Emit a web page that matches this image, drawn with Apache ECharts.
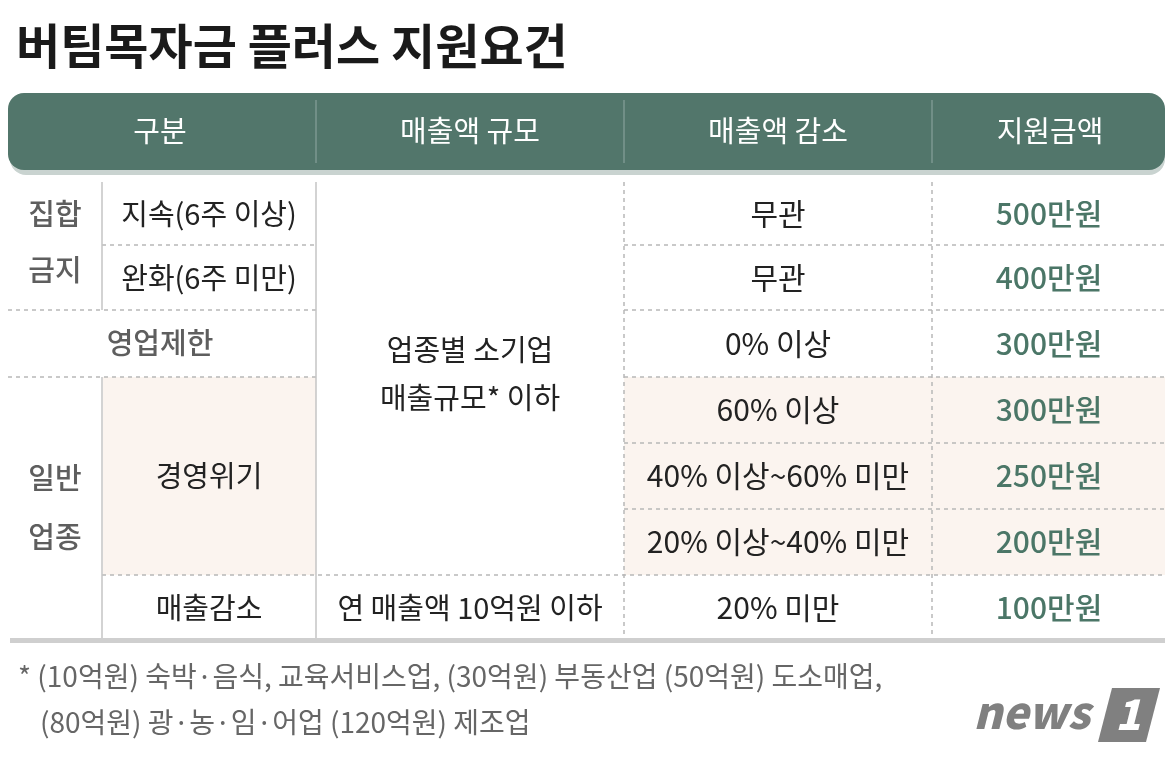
<!DOCTYPE html>
<html><head><meta charset="utf-8">
<script src="https://cdn.jsdelivr.net/npm/echarts@6/dist/echarts.min.js"></script>
<style>html,body{margin:0;padding:0;background:#fff}#chart{width:1176px;height:762px}</style>
</head><body><div id="chart"></div>
<script>
(function(){
    let myChart = echarts.init(document.getElementById("chart"));
    const FONT = '"Noto Sans CJK KR", sans-serif';

    const title = '버팀목자금 플러스 지원요건';
    const headers = ['구분', '매출액 규모', '매출액 감소', '지원금액'];
    const reductions = ['무관', '무관', '0% 이상', '60% 이상', '40% 이상~60% 미만', '20% 이상~40% 미만', '20% 미만'];
    const amounts = ['500만원', '400만원', '300만원', '300만원', '250만원', '200만원', '100만원'];
    const footnotes = ['* (10억원) 숙박·음식, 교육서비스업, (30억원) 부동산업 (50억원) 도소매업,',
                       '(80억원) 광·농·임·어업 (120억원) 제조업'];

    // column edges and row edges of the table body
    const colX = [8, 102, 316, 624, 932, 1165];
    const rowY = [182, 245, 310, 377, 443, 509, 575, 640];
    const pinkRows = [3, 4, 5];

    let g = [];
    const txt = (x, y, s, opt) => g.push({type:'text', x:x, y:y, z:6, style:Object.assign({
        text:s, font:'400 29px ' + FONT, fill:'#222', align:'center', verticalAlign:'middle'}, opt || {})});
    const mid = r => (rowY[r] + rowY[r + 1]) / 2;
    const cx = c => (colX[c] + colX[c + 1]) / 2;

    txt(16, 46, title, {font:'700 48px ' + FONT, align:'left', fill:'#1a1a1a'});

    // header bar
    g.push({type:'rect', shape:{x:10, y:100, width:1155, height:75, r:16}, style:{fill:'#c9d3d0'}});
    g.push({type:'rect', shape:{x:8, y:93, width:1157, height:77, r:16}, style:{fill:'#52766b'}});
    [316, 624, 932].forEach(x => g.push({type:'line', shape:{x1:x, y1:100, x2:x, y2:163}, style:{stroke:'#7d9990', lineWidth:1.5}}));
    const hx = [160, 470, 778, 1050];
    headers.forEach((h, i) => txt(hx[i], 131, h, {fill:'#fff', font:'400 29px ' + FONT}));

    // pink backgrounds
    g.push({type:'rect', shape:{x:103, y:rowY[3], width:213, height:rowY[6] - rowY[3]}, style:{fill:'#fbf4ef'}});
    pinkRows.forEach(r => g.push({type:'rect', shape:{x:624, y:rowY[r], width:541, height:rowY[r+1] - rowY[r]}, style:{fill:'#fbf4ef'}}));

    const dash = {stroke:'#b8b8b8', lineWidth:1.5, lineDash:[4, 4]};
    const solid = {stroke:'#c4c4c4', lineWidth:1.5};
    const hl = (x1, x2, y, st) => g.push({type:'line', z:3, shape:{x1:x1, y1:y, x2:x2, y2:y}, style:st});
    const vl = (x, y1, y2, st) => g.push({type:'line', z:3, shape:{x1:x, y1:y1, x2:x, y2:y2}, style:st});
    hl(102, 316, rowY[1], dash);
    hl(8, 316, rowY[2], dash);
    hl(8, 316, rowY[3], dash);
    hl(102, 1165, rowY[6], dash);
    for (let r = 1; r < 6; r++) hl(624, 1165, rowY[r], dash);
    vl(102, rowY[0], rowY[2], solid);
    vl(102, rowY[3], rowY[7], solid);
    vl(316, 182, 640, solid);
    vl(624, 182, 640, dash);
    vl(932, 182, 640, dash);
    g.push({type:'rect', z:4, shape:{x:10, y:638, width:1155, height:5}, style:{fill:'#cfcfcf'}});

    // labels
    const grey = {fill:'#5e5e5e', font:'500 29px ' + FONT};
    txt(55, 214, '집합', grey); txt(55, 270, '금지', grey);
    txt(160, 343, '영업제한', grey);
    txt(55, 478, '일반', grey); txt(55, 537, '업종', grey);
    txt(cx(1), mid(0), '지속(6주 이상)');
    txt(cx(1), mid(1), '완화(6주 미만)');
    txt(cx(1), (rowY[3] + rowY[6]) / 2, '경영위기');
    txt(cx(1), mid(6), '매출감소');
    txt(cx(2), 350, '업종별 소기업');
    txt(cx(2), 398, '매출규모* 이하');
    txt(cx(2), mid(6), '연 매출액 10억원 이하');
    reductions.forEach((s, r) => txt(cx(3), mid(r), s, {font:'400 30px ' + FONT}));
    amounts.forEach((s, r) => txt(1049, mid(r), s, {fill:'#4b7667', font:'500 30px ' + FONT}));

    txt(18, 676, footnotes[0], {align:'left', fill:'#666', font:'400 28px ' + FONT});
    txt(40, 722, footnotes[1], {align:'left', fill:'#666', font:'400 28px ' + FONT});

    // news1 mark
    txt(1090, 712, 'news', {align:'right', fill:'#808080', font:'italic 900 44px ' + FONT});
    g.push({type:'polygon', z:5, shape:{points:[[1112,688],[1160,688],[1146,742],[1098,742]]}, style:{fill:'#808080'}});
    txt(1128, 714, '1', {fill:'#fff', font:'italic 900 42px ' + FONT});

    myChart.setOption({animation:false, graphic:{elements:g}});
})();
</script></body></html>
